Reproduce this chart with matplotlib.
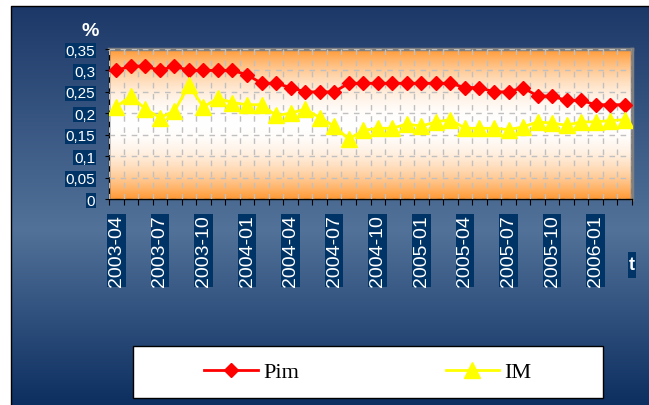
import numpy as np
import matplotlib as mpl
mpl.use('Agg')
import matplotlib.pyplot as plt
from matplotlib.patches import Rectangle

# categories (monthly) and series values
months = ["2003-04", "2003-05", "2003-06", "2003-07", "2003-08", "2003-09",
          "2003-10", "2003-11", "2003-12", "2004-01", "2004-02", "2004-03",
          "2004-04", "2004-05", "2004-06", "2004-07", "2004-08", "2004-09",
          "2004-10", "2004-11", "2004-12", "2005-01", "2005-02", "2005-03",
          "2005-04", "2005-05", "2005-06", "2005-07", "2005-08", "2005-09",
          "2005-10", "2005-11", "2005-12", "2006-01", "2006-02", "2006-03"]
pim = [0.30, 0.31, 0.31, 0.30, 0.31, 0.30, 0.30, 0.30, 0.30, 0.29, 0.27, 0.27,
       0.26, 0.25, 0.25, 0.25, 0.27, 0.27, 0.27, 0.27, 0.27, 0.27, 0.27, 0.27,
       0.26, 0.26, 0.25, 0.25, 0.26, 0.24, 0.24, 0.23, 0.23, 0.22, 0.22, 0.22]
im = [0.215, 0.24, 0.21, 0.19, 0.205, 0.265, 0.215, 0.235, 0.225, 0.22, 0.22, 0.195,
      0.20, 0.21, 0.19, 0.17, 0.14, 0.16, 0.165, 0.165, 0.175, 0.17, 0.18, 0.185,
      0.165, 0.165, 0.165, 0.162, 0.168, 0.18, 0.177, 0.172, 0.18, 0.18, 0.183, 0.185]
xlabels = ["2003-04", "2003-07", "2003-10", "2004-01", "2004-04", "2004-07",
           "2004-10", "2005-01", "2005-04", "2005-07", "2005-10", "2006-01"]
yticks = [0, 0.05, 0.1, 0.15, 0.2, 0.25, 0.3, 0.35]
ylabels = ["0", "0,05", "0,1", "0,15", "0,2", "0,25", "0,3", "0,35"]

W, H = 649, 406
NAVY = '#003366'
fig = plt.figure(figsize=(W / 100, H / 100), dpi=100)
fig.patch.set_facecolor('white')

def fx(px):
    return px / W

def fy(py):
    return 1 - py / H

# blue gradient panel behind everything
bg = fig.add_axes([0, 0, 1, 1], zorder=-10)
bg.set_xlim(0, W)
bg.set_ylim(H, 0)
bg.axis('off')
rows = np.arange(7, H)
stops_y = [7, 230, H]
stops_c = np.array([[28, 56, 104], [82, 114, 153], [12, 46, 96]]) / 255
col = np.stack([np.interp(rows, stops_y, stops_c[:, k]) for k in range(3)], axis=1)
bg.imshow(col[:, None, :], extent=[11, W, H, 7], aspect='auto', interpolation='bilinear')
bg.plot([10.5, 10.5, W], [H, 6.5, 6.5], color='black', lw=1)

# plot area
ax = fig.add_axes([fx(109), fy(200), (632 - 109) / W, 150 / H])
xmin, xmax = -0.5, len(months) - 0.5
ymin, ymax = 0, 0.35
t = np.linspace(0, 1, 300)
w = np.abs(t - 0.5) * 2
amt = w ** 2.0
orange = np.array([255, 153, 51]) / 255
grad = 1 - amt[:, None] * (1 - orange[None, :])
ax.imshow(grad[:, None, :], extent=[xmin, xmax, ymin, ymax],
          aspect='auto', origin='lower', zorder=0, interpolation='bilinear')

x = np.arange(len(months))
ax.plot(x, pim, color='#FF0000', lw=2, marker='D', ms=6.8, mec='#FF0000',
        zorder=3, label='Pim')
ax.plot(x, im, color='#FFFF00', lw=2, marker='^', ms=11, mec='#FFFF00',
        zorder=4, label='IM')

ax.set_xlim(xmin, xmax)
ax.set_ylim(ymin, ymax)

# category boundaries as major ticks, labels on minor ticks
ax.set_xticks(np.arange(-0.5, len(months), 1))
ax.set_xticklabels([])
ax.set_xticks([months.index(m) for m in xlabels], minor=True)
ax.set_xticklabels(xlabels, minor=True, rotation=90, fontsize=14,
                   color='white', family='Liberation Sans')
ax.tick_params(axis='x', which='major', direction='out', length=4, color='black')
ax.tick_params(axis='x', which='minor', length=0, pad=11)
for lab in ax.get_xticklabels(minor=True):
    lab.set_bbox(dict(facecolor=NAVY, edgecolor='none', pad=0.6))

ax.set_yticks(yticks)
ax.set_yticklabels(ylabels, fontsize=11, color='white', family='Liberation Sans')
ax.tick_params(axis='y', direction='out', length=3, color='black', pad=7)
for lab in ax.get_yticklabels():
    lab.set_bbox(dict(facecolor=NAVY, edgecolor='none', pad=0.4))

ax.grid(True, which='major', color='#c0c0c0', ls=(0, (4, 4)), lw=1, zorder=1)
ax.set_axisbelow(False)
for s in ['left', 'bottom']:
    ax.spines[s].set_color('black')
    ax.spines[s].set_linewidth(1)
for s in ['top', 'right']:
    ax.spines[s].set_color('#808080')
    ax.spines[s].set_linewidth(2.5)

# axis titles
fig.text(fx(90.5), fy(31.5), '%', color='white', fontsize=14, fontweight='bold',
         family='Liberation Sans', ha='center', va='center')
fig.add_artist(Rectangle((fx(627.5), fy(279)), 8 / W, 26 / H,
                         transform=fig.transFigure, facecolor=NAVY, edgecolor='none'))
fig.text(fx(631.5), fy(266), 't', color='white', fontsize=13, fontweight='bold',
         family='Liberation Sans', ha='center', va='center')

# legend box
fig.add_artist(Rectangle((fx(133), fy(399)), 470 / W, 52 / H,
                         transform=fig.transFigure, facecolor='white',
                         edgecolor='black', lw=1))
handles, labels = ax.get_legend_handles_labels()
leg = fig.legend(handles, labels, loc='center', bbox_to_anchor=(fx(368), fy(373)),
                 ncol=2, frameon=False, prop={'family': 'Liberation Serif', 'size': 16},
                 handlelength=2.4, handletextpad=0.25, columnspacing=6.6)
leg.set_zorder(5)

fig.savefig('out.png', dpi=100)
